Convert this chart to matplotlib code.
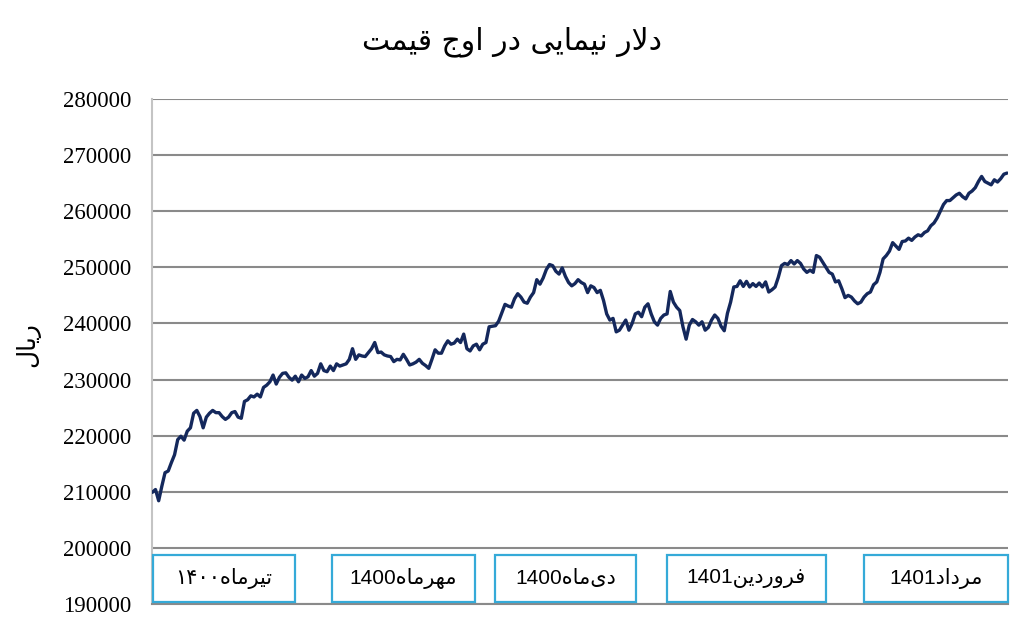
import matplotlib
matplotlib.use("Agg")
import matplotlib.pyplot as plt
import matplotlib.transforms as mtransforms
from matplotlib.patches import Rectangle
import numpy as np

# ---------------- data (thousand rials, roughly daily) ----------------
seg1 = [209.9, 210.4, 208.4, 211, 213.4, 213.7, 215.2, 216.6, 219.3, 219.9, 219.2, 220.8,
        221.4, 224, 224.5, 223.4, 221.4, 223.3, 224, 224.5, 224.1, 224.1, 223.4, 222.9,
        223.3, 224.1, 224.3, 223.3, 223.1, 226.1, 226.4, 227.1, 226.9, 227.4, 226.9, 228.6,
        229, 229.6, 230.8, 229.2, 230.4, 231.1, 231.2, 230.4, 229.9, 230.6, 229.6, 230.8,
        230.2, 230.5, 231.6, 230.6, 231.1, 232.8, 231.6, 231.4]
seg2 = [232.4, 231.6, 232.8, 232.4, 232.6, 232.8, 233.6, 235.5, 233.6, 234.4, 234.2, 234.1,
        234.8, 235.5, 236.6, 234.8, 234.9, 234.4, 234.2, 234.1, 233.2, 233.6, 233.5, 234.5,
        233.6, 232.6, 232.8, 233.1, 233.6, 232.9, 232.5, 232, 233.6, 235.3, 234.7, 234.7,
        236, 236.9, 236.3, 236.5, 237.2, 236.6, 238.1, 235.5, 235.1, 236, 236.3, 235.3,
        236.3, 236.6, 239.4, 239.5, 239.6, 240.4, 241.9, 243.4, 243.1]
seg3 = [242.9, 244.4, 245.3, 244.7, 243.8, 243.6, 244.7, 245.5, 247.8, 247, 248.1, 249.6,
        250.5, 250.3, 249.3, 248.8, 249.9, 248.4, 247.3, 246.7, 247.1, 247.8, 247.3, 247,
        245.5, 246.7, 246.4, 245.5, 245.9, 244.1, 241.7, 240.6, 240.9, 238.5, 238.8, 239.7,
        240.6, 238.8, 240, 241.7, 242, 241.2, 242.9, 243.5, 241.7, 240.3, 239.7, 240.9,
        241.5, 241.7, 245.7, 243.8, 242.9, 242.3, 239.4, 237.2, 239.7]
seg4 = [240.7, 240.3, 239.7, 240.3, 238.8, 239.3, 240.6, 241.5, 240.9, 239.5, 238.7, 241.8,
        243.8, 246.5, 246.6, 247.6, 246.6, 247.5, 246.5, 247.1, 246.6, 247.2, 246.5, 247.4,
        245.6, 246, 246.5, 248.2, 250.3, 250.7, 250.5, 251.2, 250.6, 251.2, 250.7, 249.7,
        249.1, 249.5, 249.1, 252.1, 251.8, 250.9, 250, 249.1, 248.8, 247.4, 247.6, 246.2,
        244.6, 245, 244.7, 244, 243.5, 243.8, 244.7, 245.3]
seg5 = [245.6, 246.9, 247.4, 249.1, 251.5, 252.1, 252.9, 254.4, 253.8, 253.2, 254.6, 254.7,
        255.2, 254.8, 255.4, 255.8, 255.6, 256.2, 256.5, 257.4, 257.9, 258.8, 260, 261.2,
        261.9, 261.9, 262.4, 262.9, 263.2, 262.6, 262.2, 263.2, 263.6, 264.2, 265.3, 266.2,
        265.3, 265, 264.7, 265.6, 265.2, 265.8, 266.6, 266.8]
rate_thousand = seg1 + seg2 + seg3 + seg4 + seg5

y_ticks = [190000, 200000, 210000, 220000, 230000, 240000, 250000, 260000, 270000, 280000]
month_labels = ["تیرماه۱۴۰۰", "مهرماه1400", "دی\u200cماه1400", "فروردین1401", "مرداد1401"]
title_text = "دلار نیمایی در اوج قیمت"
ylabel_text = "ریال"

# ---------------- minimal Persian shaping (matplotlib has no shaper) ----------------
FORMS = {
    'ا': ('\uFE8D', '\uFE8E', None, None),
    'ت': ('\uFE95', '\uFE96', '\uFE97', '\uFE98'),
    'ج': ('\uFE9D', '\uFE9E', '\uFE9F', '\uFEA0'),
    'د': ('\uFEA9', '\uFEAA', None, None),
    'ر': ('\uFEAD', '\uFEAE', None, None),
    'ف': ('\uFED1', '\uFED2', '\uFED3', '\uFED4'),
    'ق': ('\uFED5', '\uFED6', '\uFED7', '\uFED8'),
    'ل': ('\uFEDD', '\uFEDE', '\uFEDF', '\uFEE0'),
    'م': ('\uFEE1', '\uFEE2', '\uFEE3', '\uFEE4'),
    'ن': ('\uFEE5', '\uFEE6', '\uFEE7', '\uFEE8'),
    'ه': ('\uFEE9', '\uFEEA', '\uFEEB', '\uFEEC'),
    'و': ('\uFEED', '\uFEEE', None, None),
    'ی': ('\uFEEF', '\uFEF0', '\uFEF3', '\uFEF4'),
}


def dual(c):
    return c in FORMS and FORMS[c][2] is not None


def shape(run):
    out = []
    i = 0
    n = len(run)
    while i < n:
        c = run[i]
        if c not in FORMS:
            if c != '\u200c':
                out.append(c)
            i += 1
            continue
        prev = run[i - 1] if i > 0 else ''
        jp = dual(prev)
        if c == 'ل' and i + 1 < n and run[i + 1] == 'ا':
            out.append('\uFEFC' if jp else '\uFEFB')
            i += 2
            continue
        nxt = run[i + 1] if i + 1 < n else ''
        jn = dual(c) and nxt in FORMS
        iso, fin, ini, med = FORMS[c]
        if jp and jn:
            out.append(med)
        elif jp:
            out.append(fin)
        elif jn:
            out.append(ini)
        else:
            out.append(iso)
        i += 1
    return ''.join(out)


DIGITS = set('0123456789۰۱۲۳۴۵۶۷۸۹')


def visual(s):
    runs = []
    for ch in s:
        isd = ch in DIGITS
        if runs and runs[-1][0] == isd:
            runs[-1][1] += ch
        else:
            runs.append([isd, ch])
    parts = []
    for isd, txt in reversed(runs):
        parts.append(txt if isd else shape(txt)[::-1])
    return ''.join(parts)


# ---------------- figure ----------------
W, H = 1024, 622
fig = plt.figure(figsize=(W / 100, H / 100), dpi=100)
ax = fig.add_axes([152 / W, 1 - 604 / H, (1008 - 152) / W, (604 - 99) / H])

values = np.array(rate_thousand) * 1000
x = np.arange(len(values))
ax.plot(x, values, color='#14285c', lw=2.4, solid_joinstyle='round',
        solid_capstyle='round', zorder=4)

ax.set_xlim(-0.1, len(values) - 0.7)
ax.set_ylim(y_ticks[0], y_ticks[-1])
ax.set_yticks(y_ticks)
ax.set_yticklabels([str(v) for v in y_ticks], family='Liberation Serif', fontsize=16.5)
ax.set_xticks([])
ax.tick_params(axis='y', length=0, pad=15)
ax.grid(axis='y', color='#8a8a8a', lw=1.5, zorder=1)
for s in ('top', 'right'):
    ax.spines[s].set_visible(False)
ax.spines['bottom'].set_color('#8a8a8a')
ax.spines['bottom'].set_linewidth(1.5)
ax.spines['left'].set_color('#c4c4c4')
ax.spines['left'].set_linewidth(1.5)

# month boxes along the bottom band
box_edges = [(0.1, 44.8), (56.4, 101.7), (108, 152.3), (162, 212), (224, 269.3)]
trans = mtransforms.blended_transform_factory(ax.transData, ax.transAxes)
for (x0, x1), lab in zip(box_edges, month_labels):
    ax.add_patch(Rectangle((x0, 0.004), x1 - x0, 0.093, transform=trans,
                           facecolor='white', edgecolor='#35aad8', lw=1.6,
                           zorder=5, clip_on=False))
    ax.text((x0 + x1) / 2, 0.05, visual(lab), transform=trans, ha='center', va='center',
            fontsize=15, family=['Liberation Sans', 'DejaVu Sans'], zorder=6)

fig.text(0.5, 1 - 42 / H, visual(title_text), ha='center', va='center',
         fontsize=21.5, family='DejaVu Sans')
fig.text(28 / W, 1 - 345 / H, visual(ylabel_text), rotation=90, ha='center', va='center',
         fontsize=18, family='DejaVu Sans')

fig.savefig('out.png', dpi=100)
